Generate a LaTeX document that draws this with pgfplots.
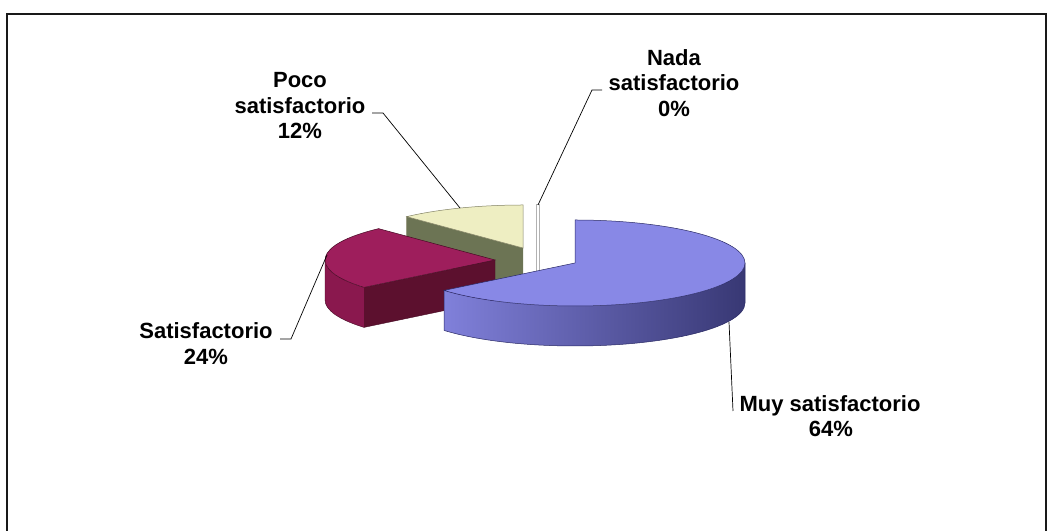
\documentclass[border=0pt]{standalone}
\usepackage{pgfplots}
\pgfplotsset{compat=1.18}
\usepackage{pgfplotstable}
\usepackage{fontspec}
\setmainfont{Liberation Sans}

\definecolor{blueTop}{RGB}{136,136,230}
\definecolor{blueSideL}{RGB}{128,128,218}
\definecolor{blueSideR}{RGB}{56,56,116}
\definecolor{blueEdge}{RGB}{40,40,100}
\definecolor{marTop}{RGB}{158,30,92}
\definecolor{marSide}{RGB}{138,24,78}
\definecolor{marFront}{RGB}{92,16,46}
\definecolor{marEdge}{RGB}{70,10,35}
\definecolor{yelTop}{RGB}{238,238,194}
\definecolor{yelFront}{RGB}{108,116,84}
\definecolor{yelEdge}{RGB}{130,130,100}

\pgfplotstableread{
label value
Muy 64
Sat 24
Poco 12
Nada 0
}\piedata

\pgfplotstablegetelem{0}{value}\of\piedata \let\vMuy\pgfplotsretval
\pgfplotstablegetelem{1}{value}\of\piedata \let\vSat\pgfplotsretval
\pgfplotstablegetelem{2}{value}\of\piedata \let\vPoco\pgfplotsretval
\pgfplotstablegetelem{3}{value}\of\piedata \let\vNada\pgfplotsretval

\pgfmathsetmacro\bS{90-3.6*\vMuy}      % blue slice: [bS,90]
\pgfmathsetmacro\mHi{\bS+360}          % maroon: [mLo,mHi]
\pgfmathsetmacro\mLo{\mHi-3.6*\vSat}
\pgfmathsetmacro\yLo{\mLo-3.6*\vPoco}  % yellow: [yLo,mLo]
\pgfmathsetmacro\nAng{\yLo-3.6*\vNada} % nada

\tikzset{pie arc/.style={x radius=170pt,y radius=43pt}}
\newcommand\lbl{\fontsize{22}{26}\selectfont\bfseries}

\begin{document}
\begin{tikzpicture}
\begin{axis}[at={(0,0)},anchor=south west,width=1053pt,height=531pt,
  scale only axis,xmin=0,xmax=1053,ymin=0,ymax=531,hide axis,clip=false]

% page extent
\path (axis cs:0,0) rectangle (axis cs:1053,531);
% border
\draw[line width=1.6pt,black!90] (axis cs:7,0) -- (axis cs:7,517) -- (axis cs:1046,517) -- (axis cs:1046,0);

% Poco satisfactorio (yellow) slice
\begin{scope}[shift={(axis cs:523,283)}]
  \fill[yelFront] (0,0) -- (\mLo:170pt and 43pt) -- ++(0,-40pt) -- (0,-40pt) -- cycle;
  \draw[yelEdge,line width=0.4pt] (0,0) -- (\mLo:170pt and 43pt) -- ++(0,-40pt) -- (0,-40pt);
  \fill[yelTop] (0,0) -- (\yLo:170pt and 43pt) arc[start angle=\yLo,end angle=\mLo,pie arc] -- cycle;
  \draw[yelEdge,line width=0.5pt] (0,0) -- (\yLo:170pt and 43pt) arc[start angle=\yLo,end angle=\mLo,pie arc] -- cycle;
\end{scope}

% Nada satisfactorio (0%)
\begin{scope}[shift={(axis cs:538,284)}]
  \filldraw[draw=black!30,fill=white,line width=0.5pt] (-1.5pt,-40pt) rectangle ([xshift=1.5pt]\nAng:170pt and 43pt);
\end{scope}

% Satisfactorio (maroon) slice
\begin{scope}[shift={(axis cs:495,271)}]
  \fill[marSide] (180:170pt and 43pt) arc[start angle=180,end angle=\mHi,pie arc] -- ++(0,-40pt) arc[start angle=\mHi,end angle=180,pie arc] -- cycle;
  \fill[marFront] (0,0) -- (\mHi:170pt and 43pt) -- ++(0,-40pt) -- (0,-40pt) -- cycle;
  \draw[marEdge,line width=0.4pt] (180:170pt and 43pt) -- ++(0,-40pt) arc[start angle=180,end angle=\mHi,pie arc] -- (0,-40pt) -- (0,0);
  \fill[marTop] (0,0) -- (\mLo:170pt and 43pt) arc[start angle=\mLo,end angle=\mHi,pie arc] -- cycle;
  \draw[marEdge,line width=0.5pt] (0,0) -- (\mLo:170pt and 43pt) arc[start angle=\mLo,end angle=\mHi,pie arc] -- cycle;
\end{scope}

% Muy satisfactorio (blue) slice
\begin{scope}[shift={(axis cs:575,268)}]
  \shade[left color=blueSideL,right color=blueSideR] (\bS:170pt and 43pt) arc[start angle=\bS,end angle=0,pie arc] -- ++(0,-40pt) arc[start angle=0,end angle=\bS,pie arc] -- cycle;
  \draw[blueEdge,line width=0.5pt] (\bS:170pt and 43pt) -- ++(0,-40pt) arc[start angle=\bS,end angle=0,pie arc] -- ++(0,40pt);
  \fill[blueTop] (0,0) -- (\bS:170pt and 43pt) arc[start angle=\bS,end angle=90,pie arc] -- cycle;
  \draw[blueEdge,line width=0.5pt] (0,0) -- (\bS:170pt and 43pt) arc[start angle=\bS,end angle=90,pie arc] -- cycle;
\end{scope}

% leader lines
\draw[black,line width=0.7pt] (axis cs:372,418) -- (axis cs:383,418) -- (axis cs:460,323);
\draw[black,line width=0.7pt] (axis cs:602,441) -- (axis cs:592,441) -- (axis cs:538,326);
\draw[black,line width=0.7pt] (axis cs:280,192) -- (axis cs:291,192) -- (axis cs:327,276);
\draw[black,line width=0.7pt] (axis cs:733,120) -- (axis cs:729,209);

% labels
\node[anchor=base,inner sep=0] at (axis cs:300,443) {\lbl Poco};
\node[anchor=base,inner sep=0] at (axis cs:300,417) {\lbl satisfactorio};
\node[anchor=base,inner sep=0] at (axis cs:300,392) {\lbl 12\%};
\node[anchor=base,inner sep=0] at (axis cs:674,465) {\lbl Nada};
\node[anchor=base,inner sep=0] at (axis cs:674,440) {\lbl satisfactorio};
\node[anchor=base,inner sep=0] at (axis cs:674,414) {\lbl 0\%};
\node[anchor=base,inner sep=0] at (axis cs:206,192) {\lbl Satisfactorio};
\node[anchor=base,inner sep=0] at (axis cs:206,166) {\lbl 24\%};
\node[anchor=base,inner sep=0] at (axis cs:830,119.5) {\lbl Muy satisfactorio};
\node[anchor=base,inner sep=0] at (axis cs:831,94) {\lbl 64\%};

\end{axis}
\end{tikzpicture}
\end{document}
